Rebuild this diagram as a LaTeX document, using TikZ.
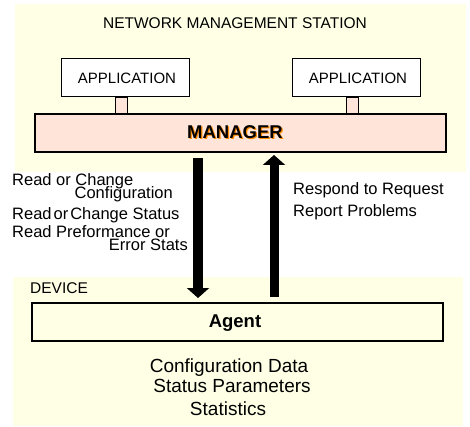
\documentclass[tikz,border=0pt]{standalone}
\usepackage{fontspec}
\setmainfont{Liberation Sans}
\usetikzlibrary{arrows.meta}
\definecolor{panel}{HTML}{FFFFE6}
\definecolor{pinkfill}{HTML}{FFE4DA}
\definecolor{shadoworange}{HTML}{FF8C00}
\tikzset{
  panelbg/.style={fill=panel, draw=none},
  appbox/.style={draw=black, line width=1pt, fill=white, minimum width=128pt, minimum height=38pt, inner sep=0pt},
  stub/.style={draw=black, line width=0.6pt, fill=pinkfill},
  bigbox/.style={draw=black, line width=2pt, inner sep=0pt},
  lbl/.style={font=\fontsize{16.5}{18}\selectfont, inner sep=0pt},
  datalbl/.style={font=\fontsize{19}{21}\selectfont, inner sep=0pt, anchor=base},
  bigarrow/.style={line width=10pt, -{Triangle[width=22pt,length=10pt]}}
}
\begin{document}
\begin{tikzpicture}[x=1pt, y=-1pt]
\useasboundingbox (0,0) rectangle (470,427);
% panels
\fill[panel] (15,4) rectangle (466,172);
\fill[panel] (13,277) rectangle (463,426);
% title
\node[font=\fontsize{15.5}{17}\selectfont, anchor=base, inner sep=0pt] (title) at (235,29) {NETWORK MANAGEMENT STATION};
% application boxes
\node[appbox] (app1) at (125,78) {};
\node[font=\fontsize{15}{17}\selectfont, anchor=base, inner sep=0pt] (app1t) at (127,84) {APPLICATION};
\node[appbox] (app2) at (356.5,78) {};
\node[font=\fontsize{15}{17}\selectfont, anchor=base, inner sep=0pt] (app2t) at (358,84) {APPLICATION};
% stubs
\draw[stub] (115,97) rectangle (127,114);
\draw[stub] (346,97) rectangle (358,114);
% manager
\node[bigbox, fill=pinkfill, minimum width=411pt, minimum height=38pt] (manager) at (240.5,133) {};
\node[font=\bfseries\fontsize{18.5}{20}\selectfont, anchor=base, inner sep=0pt, text=shadoworange] at (236.2,139.8) {MANAGER};
\node[font=\bfseries\fontsize{18.5}{20}\selectfont, anchor=base, inner sep=0pt] (managert) at (235,138.6) {MANAGER};
% agent
\node[bigbox, fill=panel, minimum width=411pt, minimum height=38pt] (agent) at (237.5,322) {};
\node[font=\bfseries\fontsize{18.5}{20}\selectfont, anchor=base, inner sep=0pt] (agentt) at (235,327) {Agent};
% arrows
\coordinate (dstart) at (198,158);
\coordinate (dend) at (198,298);
\coordinate (ustart) at (274,297);
\coordinate (uend) at (274,155);
\draw[bigarrow] (dstart) -- (dend);
\draw[bigarrow, line width=9pt] (ustart) -- (uend);
% left labels
\node[lbl, anchor=base west] (l1) at (12,186) {Read or Change};
\node[lbl, anchor=base east] (l2) at (173,199) {Configuration};
\node[lbl, anchor=base west] (l3) at (12,220) {Read\hspace{2pt}or\hspace{2pt}Change Status};
\node[lbl, anchor=base west] (l4) at (12,237) {Read Preformance or};
\node[lbl, anchor=base east] (l5) at (188,251) {Error Stats};
% right labels
\node[lbl, anchor=base west] (r1) at (293,195) {Respond to Request};
\node[lbl, anchor=base west] (r2) at (293,217) {Report Problems};
% device
\node[font=\fontsize{15.5}{17}\selectfont, anchor=base west, inner sep=0pt] (device) at (30,293) {DEVICE};
% data labels
\node[datalbl] (d1) at (229,372) {Configuration Data};
\node[datalbl] (d2) at (232,392) {Status Parameters};
\node[datalbl] (d3) at (228,415) {Statistics};
\end{tikzpicture}
\end{document}
